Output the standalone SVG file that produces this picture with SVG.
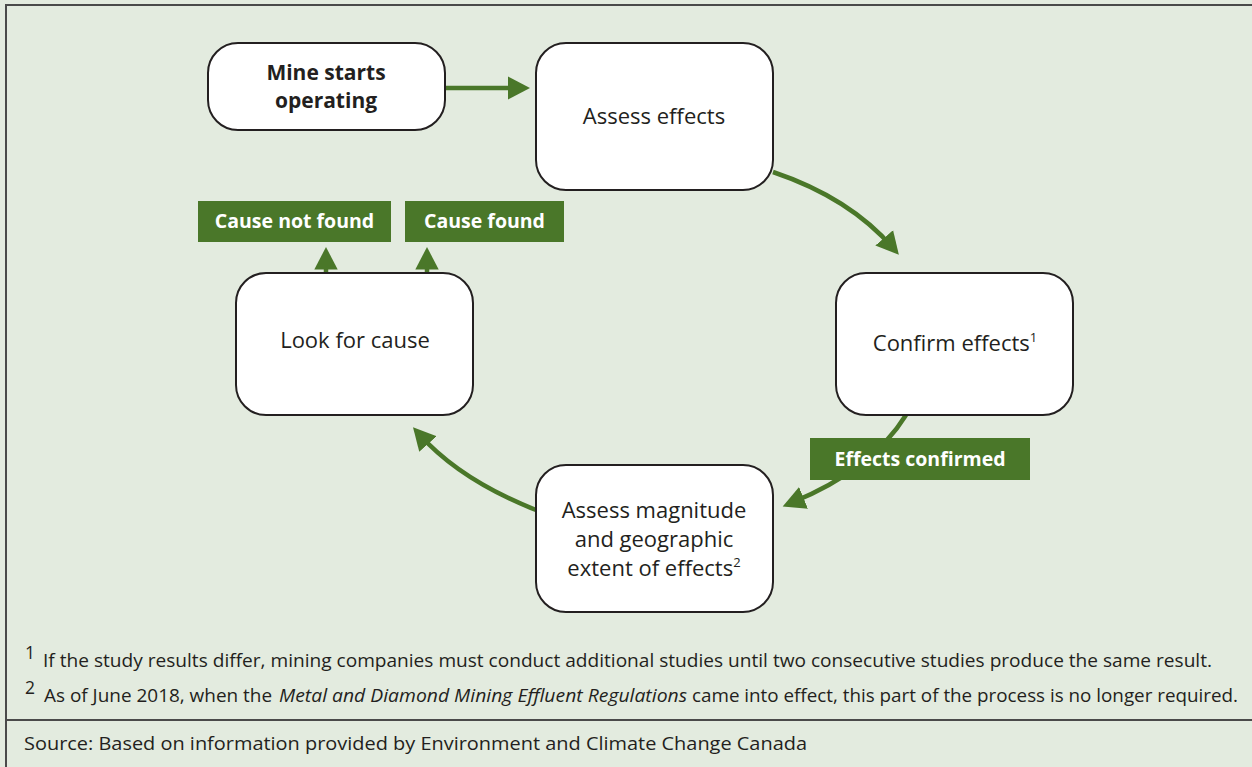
<svg xmlns="http://www.w3.org/2000/svg" width="1252" height="767" viewBox="0 0 1252 767">
<style>
.node rect{fill:#fff;stroke:#231f20;stroke-width:2}
.t{font-family:"Open Sans","Liberation Sans",sans-serif;font-size:22px;fill:#231f20;text-anchor:middle}
.b{font-weight:bold;font-size:21px}
.lab rect{fill:#4a7729}
.lt{font-family:"Open Sans","Liberation Sans",sans-serif;font-size:19.5px;font-weight:bold;fill:#fff;text-anchor:middle}
.conn path{fill:none;stroke:#4a7729;stroke-width:4.5}
.fn{font-family:"Open Sans","Liberation Sans",sans-serif;font-size:17.5px;fill:#231f20}
</style>
<defs>
<marker id="ah" markerWidth="6" markerHeight="6" refX="3" refY="3" orient="auto" markerUnits="strokeWidth">
<path d="M0,0.4 L5,3 L0,5.6 z" fill="#4a7729"/>
</marker>
</defs>
<rect x="0" y="0" width="1252" height="767" fill="#e3ebdf"/>
<path d="M6,767 V5 H1252" fill="none" stroke="#4a4a4a" stroke-width="2"/>
<path d="M6,720 H1252" fill="none" stroke="#4a4a4a" stroke-width="2"/>

<g class="conn">
<path d="M445,88 H521" marker-end="url(#ah)"/>
<path d="M773,172 Q850,198 893,248" marker-end="url(#ah)"/>
<path d="M906,415 Q872,470 791,503" marker-end="url(#ah)"/>
<path d="M536,510 Q460,480 419,434" marker-end="url(#ah)"/>
<path d="M326,273 V256" marker-end="url(#ah)"/>
<path d="M427,273 V256" marker-end="url(#ah)"/>
</g>

<g id="mine" class="node">
<rect x="208" y="43" width="237" height="87" rx="30"/>
<text class="t b" x="326" y="80">Mine starts</text>
<text class="t b" x="326" y="108">operating</text>
</g>
<g id="assess" class="node">
<rect x="536" y="43" width="237" height="147" rx="30"/>
<text class="t" x="654" y="124">Assess effects</text>
</g>
<g id="confirm" class="node">
<rect x="836" y="273" width="237" height="142" rx="30"/>
<text class="t" x="955" y="351">Confirm effects<tspan font-size="13" dy="-9">1</tspan></text>
</g>
<g id="magnitude" class="node">
<rect x="536" y="465" width="237" height="147" rx="30"/>
<text class="t" x="654" y="518">Assess magnitude</text>
<text class="t" x="654" y="547">and geographic</text>
<text class="t" x="654" y="576">extent of effects<tspan font-size="13" dy="-9">2</tspan></text>
</g>
<g id="cause" class="node">
<rect x="236" y="273" width="237" height="142" rx="30"/>
<text class="t" x="355" y="348">Look for cause</text>
</g>

<g id="lbl-notfound" class="lab">
<rect x="198" y="201" width="193" height="41"/>
<text class="lt" x="294.5" y="228">Cause not found</text>
</g>
<g id="lbl-found" class="lab">
<rect x="405" y="201" width="159" height="41"/>
<text class="lt" x="484.5" y="228">Cause found</text>
</g>
<g id="lbl-confirmed" class="lab">
<rect x="810" y="438" width="220" height="42"/>
<text class="lt" x="920" y="466">Effects confirmed</text>
</g>

<text class="fn" x="25" y="659" font-size="13">1</text>
<text class="fn" x="43" y="667" textLength="1169" lengthAdjust="spacingAndGlyphs">If the study results differ, mining companies must conduct additional studies until two consecutive studies produce the same result.</text>
<text class="fn" x="25" y="694" font-size="13">2</text>
<text class="fn" y="702"><tspan x="44" textLength="233" lengthAdjust="spacingAndGlyphs">As of June 2018, when the </tspan><tspan x="279" font-style="italic" textLength="408" lengthAdjust="spacingAndGlyphs">Metal and Diamond Mining Effluent Regulations</tspan><tspan x="692" textLength="546" lengthAdjust="spacingAndGlyphs">came into effect, this part of the process is no longer required.</tspan></text>
<text class="fn" x="24" y="750" textLength="783" lengthAdjust="spacingAndGlyphs">Source: Based on information provided by Environment and Climate Change Canada</text>
</svg>
